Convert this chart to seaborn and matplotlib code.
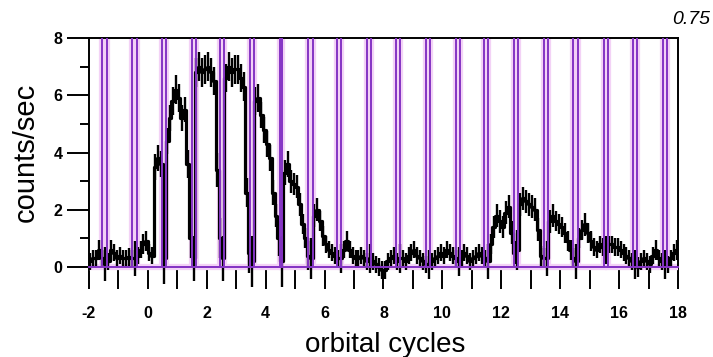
import numpy as np
import matplotlib
matplotlib.use("Agg")
import matplotlib.pyplot as plt
import seaborn as sns
from matplotlib.ticker import FixedLocator

sns.set_style("ticks")
plt.rcParams["font.family"] = ["Liberation Sans", "DejaVu Sans"]
plt.rcParams["axes.unicode_minus"] = False
for key in ("text.color", "axes.labelcolor", "xtick.color", "ytick.color",
            "xtick.labelcolor", "ytick.labelcolor"):
    plt.rcParams[key] = "black"

# light curve, 0.1-cycle bins (bin centres -1.95 ... 17.95), one row per cycle
phase = np.round(np.arange(-1.95, 18.0, 0.1), 2)
rate = [
    0.2, 0.3, 0.3, 0.6, 0.3, 0.1, 0.2, 0.6, 0.5, 0.3,   # -2
    0.4, 0.3, 0.3, 0.35, 0.3, 0.3, 0.4, 0.6, 0.8, 0.9,  # -1
    0.5, 0.4, 3.5, 3.8, 3.6, 0.3, 4.4, 5.2, 5.8, 6.2,   # 0
    5.9, 5.2, 5.5, 3.6, 1.0, 0.3, 6.8, 7.0, 6.8, 6.9,   # 1
    7.0, 6.8, 6.5, 3.4, 1.0, 0.3, 6.6, 7.0, 6.8, 6.9,   # 2
    6.9, 6.6, 6.3, 2.6, 0.5, 0.2, 5.8, 5.9, 5.3, 4.8,   # 3
    4.3, 3.8, 2.6, 1.8, 1.0, 0.2, 3.3, 3.6, 3.0, 2.9,   # 4
    2.8, 2.2, 1.5, 1.0, 0.4, 0.3, 1.8, 2.0, 1.6, 1.1,   # 5
    0.8, 0.6, 0.5, 0.4, 0.3, 0.3, 0.6, 0.9, 0.6, 0.4,   # 6
    0.3, 0.3, 0.4, 0.3, 0.2, 0.3, 0.2, 0.1, 0.0, -0.1,  # 7
    -0.1, 0.2, 0.3, 0.4, 0.2, 0.3, 0.3, 0.2, 0.4, 0.5,  # 8
    0.6, 0.4, 0.3, 0.2, 0.1, 0.1, 0.2, 0.3, 0.4, 0.5,   # 9
    0.4, 0.6, 0.5, 0.4, 0.3, 0.2, 0.3, 0.5, 0.4, 0.2,   # 10
    0.3, 0.4, 0.5, 0.4, 0.3, 0.2, 0.8, 1.4, 1.8, 1.6,   # 11
    1.4, 1.9, 2.1, 1.2, 0.5, 0.6, 2.2, 2.4, 2.3, 2.2,   # 12
    2.1, 2.0, 1.3, 0.4, 0.3, 0.3, 1.6, 1.8, 1.6, 1.5,   # 13
    1.4, 1.2, 0.9, 0.6, 0.3, 0.2, 1.0, 1.3, 1.5, 1.2,   # 14
    0.9, 0.7, 0.6, 0.8, 0.7, 0.6, 0.8, 0.8, 0.7, 0.7,   # 15
    0.6, 0.5, 0.4, 0.3, 0.2, 0.1, 0.0, 0.2, 0.3, 0.2,   # 16
    0.1, 0.4, 0.6, 0.3, 0.2, 0.1, 0.1, 0.3, 0.5, 0.6,   # 17
]
rate_err = [
    0.30, 0.30, 0.30, 0.35, 0.30, 0.60, 0.30, 0.35, 0.30, 0.30,
    0.30, 0.30, 0.30, 0.30, 0.30, 0.60, 0.30, 0.30, 0.35, 0.35,
    0.30, 0.30, 0.45, 0.45, 0.45, 0.90, 0.45, 0.45, 0.50, 0.50,
    0.50, 0.45, 0.45, 0.50, 0.70, 0.80, 0.50, 0.50, 0.50, 0.50,
    0.50, 0.50, 0.50, 0.60, 0.70, 0.80, 0.50, 0.50, 0.50, 0.50,
    0.50, 0.50, 0.50, 0.50, 0.70, 0.90, 0.50, 0.50, 0.45, 0.45,
    0.45, 0.45, 0.45, 0.40, 0.60, 0.90, 0.45, 0.45, 0.40, 0.40,
    0.40, 0.40, 0.35, 0.35, 0.50, 0.70, 0.40, 0.40, 0.35, 0.35,
    0.30, 0.30, 0.30, 0.30, 0.30, 0.50, 0.30, 0.35, 0.30, 0.30,
    0.30, 0.30, 0.30, 0.30, 0.30, 0.50, 0.30, 0.30, 0.30, 0.30,
    0.30, 0.30, 0.30, 0.30, 0.30, 0.50, 0.30, 0.30, 0.30, 0.30,
    0.30, 0.30, 0.30, 0.30, 0.30, 0.50, 0.30, 0.30, 0.30, 0.30,
    0.30, 0.30, 0.30, 0.30, 0.30, 0.50, 0.30, 0.30, 0.30, 0.30,
    0.30, 0.30, 0.30, 0.30, 0.30, 0.60, 0.35, 0.40, 0.40, 0.40,
    0.40, 0.40, 0.40, 0.40, 0.40, 0.70, 0.40, 0.40, 0.40, 0.40,
    0.40, 0.40, 0.40, 0.35, 0.35, 0.60, 0.40, 0.40, 0.35, 0.35,
    0.35, 0.35, 0.35, 0.35, 0.35, 0.60, 0.35, 0.35, 0.40, 0.35,
    0.35, 0.30, 0.30, 0.30, 0.30, 0.50, 0.30, 0.30, 0.30, 0.30,
    0.30, 0.30, 0.30, 0.30, 0.30, 0.50, 0.35, 0.30, 0.30, 0.30,
    0.30, 0.30, 0.35, 0.30, 0.30, 0.50, 0.30, 0.30, 0.30, 0.35,
]

# eclipse windows (start, end) in orbital cycles
win_start = [-1.56, -0.54, 0.48, 1.50, 2.45, 3.47, 4.49, 5.45, 6.42, 7.44,
             8.42, 9.44, 10.46, 11.41, 12.43, 13.45, 14.43, 15.49, 16.47, 17.49]
win_end = [-1.39, -0.37, 0.61, 1.63, 2.58, 3.60, 4.57, 5.59, 6.56, 7.58,
           8.56, 9.58, 10.60, 11.55, 12.57, 13.59, 14.60, 15.62, 16.61, 17.63]

x_ticks = list(range(-2, 19, 2))
x_minor = list(range(-1, 18, 2))
y_ticks = [0, 2, 4, 6, 8]
y_minor = [1, 3, 5, 7]
phase_label = "0.75"

rate = np.array(rate)
rate_err = np.array(rate_err)

fig = plt.figure(figsize=(7.13, 3.57), dpi=100)
ax = fig.add_axes([0.12482, 0.13165, 0.82609, 0.76190])

purple = "#8534c4"
halo = "#f3d2f6"

# data: stepped light curve with 1-sigma bars
sns.lineplot(x=phase, y=rate, ax=ax, color="black", lw=2.3,
             drawstyle="steps-mid", estimator=None, zorder=3)
ax.vlines(phase, rate - rate_err, rate + rate_err, color="black", lw=1.7, zorder=3)

# window function: zero baseline with a top-hat at each eclipse
wx, wy = [-2.0], [0.0]
for s, e in zip(win_start, win_end):
    wx += [s, s, e, e]
    wy += [0.0, 9.0, 9.0, 0.0]
wx.append(18.0)
wy.append(0.0)
ax.plot(wx, wy, color=halo, lw=4.5, zorder=2, solid_joinstyle="miter")
ax.plot(wx, wy, color=purple, lw=1.4, zorder=4, solid_joinstyle="miter")

ax.set_xlim(-2, 18)
ax.set_ylim(-1.5, 8)

# axes frame: x axis drawn at zero, side axes from 0 to 8
ax.spines["bottom"].set_position(("data", 0))
ax.spines["bottom"].set_color(purple)
ax.spines["bottom"].set_linewidth(1.4)
ax.spines["bottom"].set_zorder(4)
for side in ("left", "right", "top"):
    ax.spines[side].set_visible(True)
    ax.spines[side].set_color("black")
    ax.spines[side].set_linewidth(1.4)
ax.spines["left"].set_bounds(0, 8)
ax.spines["right"].set_bounds(0, 8)

ax.xaxis.set_major_locator(FixedLocator(x_ticks))
ax.xaxis.set_minor_locator(FixedLocator(x_minor))
ax.yaxis.set_major_locator(FixedLocator(y_ticks))
ax.yaxis.set_minor_locator(FixedLocator(y_minor))
ax.tick_params(axis="x", which="both", direction="out", length=16, width=1.4,
               color="black", pad=12)
ax.tick_params(axis="y", which="major", direction="out", length=16, width=1.4,
               color="black", pad=3)
ax.tick_params(axis="y", which="minor", direction="out", length=6.5, width=1.4,
               color="black")
ax.tick_params(right=False, top=False, which="both")

for lab in ax.get_xticklabels() + ax.get_yticklabels():
    lab.set_fontweight("bold")
    lab.set_fontsize(11.5)
    lab.set_color("black")

ax.set_xlabel("orbital cycles", fontsize=20, color="black")
ax.set_ylabel("counts/sec", fontsize=21, color="black")
ax.xaxis.set_label_coords(0.5025, -0.081)
ax.yaxis.set_label_coords(-0.083, 0.58)

fig.text(710 / 713, 1 - 20 / 357, phase_label, ha="right", va="center",
         fontsize=14, style="italic", color="black")

ax.set_facecolor("white")
fig.savefig("out.png", dpi=100, facecolor="white")
